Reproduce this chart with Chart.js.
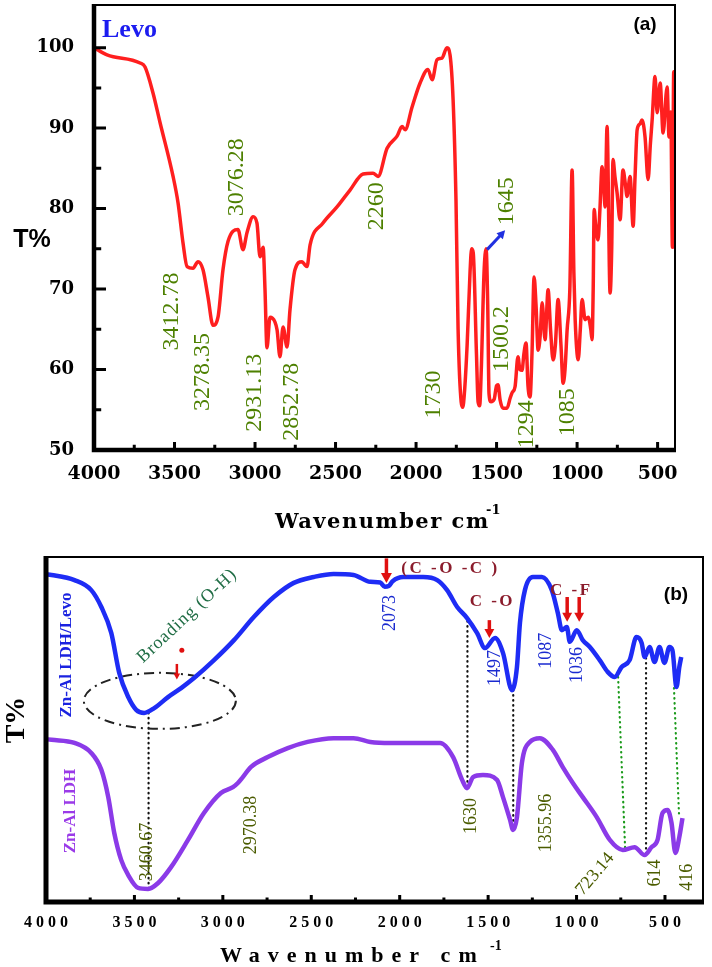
<!DOCTYPE html>
<html lang="en">
<head>
<meta charset="UTF-8">
<title>FTIR spectra: Levo, Zn-Al LDH/Levo, Zn-Al LDH</title>
<script src="https://cdn.jsdelivr.net/npm/chart.js"></script>
<style>
    body { margin: 0; background: #fff; }
    .wrap { position: relative; width: 712px; height: 967px; }
    #topChart { position: absolute; left: 0; top: 0; }
    #bottomChart { position: absolute; left: 0; top: 540px; }
</style>
</head>
<body>
<div class="wrap">
    <canvas id="topChart" width="712" height="540"></canvas>
    <canvas id="bottomChart" width="712" height="427"></canvas>
</div>
<script>
// ---- (a) Levo spectrum ----
const levoWn = [4000, 3919, 3714, 3683, 3634, 3590, 3509, 3478, 3447, 3422, 3385, 3354, 3323, 3292, 3261, 3230, 3199, 3168, 3106, 3075, 3050, 3012, 2988, 2969, 2950, 2938, 2926, 2907, 2876, 2863, 2845, 2826, 2801, 2783, 2752, 2708, 2690, 2677, 2658, 2578, 2491, 2410, 2329, 2267, 2236, 2180, 2118, 2087, 2068, 2025, 1975, 1926, 1900, 1870, 1839, 1808, 1789, 1770, 1752, 1739, 1720, 1710, 1700, 1683, 1665, 1655, 1645, 1625, 1615, 1605, 1595, 1578, 1565, 1555, 1547, 1535, 1515, 1500, 1491, 1478, 1460, 1435, 1415, 1404, 1385, 1367, 1355, 1342, 1330, 1317, 1305, 1292, 1280, 1267, 1255, 1242, 1230, 1217, 1199, 1180, 1165, 1149, 1135, 1118, 1100, 1087, 1075, 1062, 1045, 1031, 1020, 1012, 993, 980, 969, 950, 931, 915, 907, 900, 894, 885, 870, 858, 845, 835, 826, 814, 795, 785, 777, 765, 752, 733, 715, 700, 690, 671, 652, 640, 627, 610, 597, 578, 559, 545, 534, 516, 503, 484, 466, 441, 429, 418, 408, 400, 393];
const levoT = [100, 99.1, 98.1, 97.6, 94.4, 90.7, 84.0, 80.7, 75.7, 72.8, 72.6, 73.4, 72.4, 69.0, 65.5, 66.5, 72.4, 75.9, 77.4, 74.9, 77.0, 79.0, 78.2, 74.0, 75.2, 69.9, 62.7, 66.5, 65.9, 64.9, 61.6, 65.3, 62.8, 67.4, 72.4, 73.4, 73.0, 72.8, 75.5, 78.2, 80.2, 82.3, 84.3, 84.4, 84.0, 87.5, 89.0, 90.2, 89.8, 92.6, 95.6, 97.3, 96.0, 98.5, 98.7, 100, 99.1, 93.5, 81.0, 65.0, 56.0, 55.3, 57.0, 63.0, 72.0, 75.0, 74.5, 62.0, 56.0, 55.5, 60.0, 72.0, 75.0, 68.0, 57.0, 56.0, 56.3, 58.0, 58.1, 56.2, 55.2, 55.2, 56.5, 57.1, 57.9, 61.6, 60.0, 59.9, 62.0, 63.3, 58.0, 56.6, 62.0, 71.5, 68.0, 62.4, 64.0, 68.3, 63.7, 69.9, 65.0, 61.2, 63.0, 68.7, 63.0, 58.3, 60.0, 64.9, 70.0, 84.8, 72.0, 66.2, 61.2, 65.0, 68.7, 66.2, 66.5, 65.0, 63.7, 70.0, 79.9, 78.0, 76.1, 80.0, 85.2, 83.0, 80.2, 90.2, 69.5, 75.0, 86.1, 84.0, 82.0, 78.6, 84.8, 83.0, 81.5, 84.0, 77.8, 84.0, 89.8, 90.5, 91.0, 88.9, 83.6, 88.0, 91.0, 96.4, 91.9, 95.6, 89.4, 95.1, 88.9, 92.0, 75.2, 97.0, 75.0];

// ---- (b) Zn-Al LDH/Levo (upper trace), arbitrary offset units ----
const ldhLevoWn = [4000, 3969, 3839, 3744, 3687, 3631, 3586, 3535, 3490, 3445, 3388, 3310, 3236, 3163, 3050, 2937, 2825, 2712, 2599, 2486, 2374, 2261, 2166, 2110, 2085, 2062, 2040, 1980, 1867, 1788, 1732, 1675, 1619, 1563, 1517, 1461, 1416, 1365, 1337, 1320, 1292, 1247, 1196, 1140, 1106, 1083, 1055, 1038, 999, 965, 925, 869, 824, 784, 745, 700, 661, 632, 615, 587, 559, 531, 503, 475, 458, 435, 419, 408];
const ldhLevoT = [95.0, 94.8, 93.3, 90.4, 85.5, 78.0, 66.4, 59.4, 55.7, 54.8, 56.2, 59.4, 62.0, 64.9, 70.1, 75.9, 82.6, 88.4, 92.5, 94.2, 95.1, 94.8, 92.8, 92.6, 91.4, 91.6, 93.0, 94.2, 94.2, 93.3, 90.4, 85.5, 82.3, 78.0, 73.6, 76.5, 72.2, 61.4, 68.1, 80.9, 90.4, 94.2, 94.2, 90.4, 83.8, 78.8, 79.7, 75.4, 78.8, 75.9, 73.9, 70.1, 66.7, 65.2, 68.1, 70.1, 76.8, 75.1, 71.0, 73.9, 69.6, 73.9, 69.3, 73.9, 73.0, 62.3, 68.1, 71.0];

// ---- (b) Zn-Al LDH (lower trace) ----
const ldhWn = [4000, 3969, 3839, 3744, 3687, 3648, 3614, 3575, 3535, 3479, 3423, 3366, 3293, 3197, 3107, 3011, 2943, 2915, 2887, 2842, 2746, 2633, 2521, 2374, 2261, 2166, 2053, 1924, 1771, 1698, 1647, 1619, 1585, 1529, 1450, 1416, 1376, 1359, 1337, 1309, 1264, 1208, 1134, 1078, 1021, 965, 886, 812, 739, 672, 615, 576, 542, 514, 486, 463, 441, 419, 401];
const ldhT = [47.2, 47.0, 46.1, 43.2, 38.3, 30.4, 20.0, 12.2, 7.8, 4.1, 3.8, 5.5, 10.1, 18.0, 25.8, 31.6, 33.3, 34.5, 36.2, 39.1, 42.0, 44.6, 46.4, 47.5, 47.5, 46.4, 46.1, 46.1, 46.1, 42.0, 35.4, 33.0, 36.2, 36.8, 35.4, 30.4, 23.8, 20.9, 24.6, 40.3, 46.4, 47.5, 44.1, 39.1, 34.5, 30.4, 24.6, 18.0, 15.1, 15.9, 13.6, 15.9, 18.0, 25.8, 26.7, 22.9, 14.2, 18.8, 24.3];

const topXTicks = [4000, 3500, 3000, 2500, 2000, 1500, 1000, 500];
const topYTicks = [50, 60, 70, 80, 90, 100];
const bottomXTicks = [4000, 3500, 3000, 2500, 2000, 1500, 1000, 500];

// peak labels: [text, wavenumber, T]
const levoPeakLabels = [
    ['3412.78', 3516, 67.2], ['3278.35', 3323, 59.7], ['3076.28', 3112, 83.9],
    ['2931.13', 3000, 57.1], ['2852.78', 2770, 56.0], ['2260', 2242, 80.3],
    ['1645', 1435, 80.9], ['1500.2', 1466, 63.8], ['1730', 1888, 56.9],
    ['1294', 1311, 53.2], ['1085', 1056, 54.7]
];
const ldhPeakLabels = [
    ['3460.67', 3430, 14.5, -90], ['2970.38', 2842, 22.3, -90], ['1630', 1595, 24.9, -90],
    ['1355.96', 1171, 22.9, -90], ['723.14', 895, 8.1, -50], ['614', 556, 8.4, -90], ['416', 375, 7.2, -90]
];
const ldhLevoPeakLabels = [['2073', 2052, 83.8], ['1497', 1459, 67.8], ['1087', 1171, 72.8], ['1036', 996, 68.7]];
// dotted guide lines: [wn upper, v upper, wn lower, v lower, colour]
const guides = [
    [3420, 54.8, 3420, 3.5, '#111'], [1617, 81.4, 1617, 33.3, '#111'], [1358, 61.4, 1358, 20.9, '#111'],
    [765, 65.2, 725, 15.1, '#1a9a1a'], [607, 70.7, 607, 13.6, '#111'], [449, 62.0, 420, 24.6, '#1a9a1a']
];

const pairs = (xs, ys) => xs.map((x, i) => ({ x: x, y: ys[i] }));

function label(ctx, s, x, y, font, color, angle, spacing) {
    ctx.save();
    ctx.font = font;
    ctx.fillStyle = color;
    if (spacing && 'letterSpacing' in ctx) ctx.letterSpacing = spacing + 'px';
    ctx.translate(x, y);
    ctx.rotate((angle || 0) * Math.PI / 180);
    ctx.textAlign = 'center';
    ctx.textBaseline = 'middle';
    ctx.fillText(s, 0, 0);
    ctx.restore();
}

function arrow(ctx, x1, y1, x2, y2, color, w, head) {
    const ang = Math.atan2(y2 - y1, x2 - x1);
    const c = Math.cos(ang), s = Math.sin(ang);
    ctx.save();
    ctx.setLineDash([]);
    ctx.strokeStyle = color;
    ctx.fillStyle = color;
    ctx.lineWidth = w;
    ctx.beginPath();
    ctx.moveTo(x1, y1);
    ctx.lineTo(x2 - c * head * 0.8, y2 - s * head * 0.8);
    ctx.stroke();
    ctx.beginPath();
    ctx.moveTo(x2, y2);
    ctx.lineTo(x2 - head * c + head * 0.55 * s, y2 - head * s - head * 0.55 * c);
    ctx.lineTo(x2 - head * c - head * 0.55 * s, y2 - head * s + head * 0.55 * c);
    ctx.closePath();
    ctx.fill();
    ctx.restore();
}

function drawTicks(ctx, chart, xTicks, yTicks, xLen, yLen) {
    const a = chart.chartArea, x = chart.scales.x, y = chart.scales.y;
    ctx.save();
    ctx.strokeStyle = '#000';
    ctx.lineWidth = 3;
    ctx.beginPath();
    xTicks.forEach((v, i) => {
        const px = x.getPixelForValue(v);
        ctx.moveTo(px, a.bottom); ctx.lineTo(px, a.bottom - xLen);
        if (i < xTicks.length - 1) {
            const m = x.getPixelForValue((v + xTicks[i + 1]) / 2);
            ctx.moveTo(m, a.bottom); ctx.lineTo(m, a.bottom - xLen * 0.65);
        }
    });
    if (yTicks) {
        yTicks.forEach((v, i) => {
            const py = y.getPixelForValue(v);
            ctx.moveTo(a.left, py); ctx.lineTo(a.left + yLen, py);
            if (i < yTicks.length - 1) {
                const m = y.getPixelForValue((v + yTicks[i + 1]) / 2);
                ctx.moveTo(a.left, m); ctx.lineTo(a.left + yLen * 0.6, m);
            }
        });
    }
    ctx.stroke();
    ctx.restore();
}

function drawFrame(ctx, a, thick) {
    ctx.save();
    ctx.strokeStyle = '#000';
    ctx.lineWidth = 2;
    ctx.strokeRect(a.left, a.top, a.right - a.left, a.bottom - a.top);
    ctx.lineWidth = thick;
    ctx.beginPath();
    ctx.moveTo(a.left, a.top - 1);
    ctx.lineTo(a.left, a.bottom);
    ctx.lineTo(a.right + 1, a.bottom);
    ctx.stroke();
    ctx.restore();
}

// stop Chart.js from reserving room for half of the end tick labels
const noEdgePadding = s => { s.paddingTop = 0; s.paddingBottom = 0; };

const topDecor = {
    id: 'topDecor',
    afterDraw(chart) {
        const { ctx, chartArea: a, scales: { x, y } } = chart;
        drawFrame(ctx, a, 4.5);
        drawTicks(ctx, chart, topXTicks, topYTicks, 8, 12);
        levoPeakLabels.forEach(p => {
            label(ctx, p[0], x.getPixelForValue(p[1]), y.getPixelForValue(p[2]), '24px "Liberation Serif"', '#4d8000', -90);
        });
        arrow(ctx, x.getPixelForValue(1559), y.getPixelForValue(74.9), x.getPixelForValue(1447), y.getPixelForValue(77.3), '#2030e0', 3, 8);
        ctx.save();
        ctx.font = 'bold 26px "Liberation Serif"';
        ctx.fillStyle = '#1c1cf0';
        ctx.fillText('Levo', 102, 37);
        ctx.restore();
        label(ctx, '(a)', 645, 25, 'bold 19px "Liberation Sans"', '#000');
        label(ctx, 'T%', 32, 240, 'bold 25px "Liberation Sans"', '#000');
        ctx.save();
        ctx.fillStyle = '#000';
        ctx.font = 'bold 21px "DejaVu Serif"';
        if ('letterSpacing' in ctx) ctx.letterSpacing = '1.5px';
        ctx.fillText('Wavenumber cm', 275, 528);
        ctx.font = 'bold 13px "DejaVu Serif"';
        if ('letterSpacing' in ctx) ctx.letterSpacing = '0px';
        ctx.fillText('-1', 486, 514);
        ctx.restore();
    }
};

const bottomDecor = {
    id: 'bottomDecor',
    beforeDatasetsDraw(chart) {
        const { ctx, scales: { x, y } } = chart;
        ctx.save();
        ctx.lineWidth = 2.2;
        ctx.lineCap = 'round';
        ctx.setLineDash([0.5, 4.5]);
        guides.forEach(g => {
            ctx.strokeStyle = g[4];
            ctx.beginPath();
            ctx.moveTo(x.getPixelForValue(g[0]), y.getPixelForValue(g[1]));
            ctx.lineTo(x.getPixelForValue(g[2]), y.getPixelForValue(g[3]));
            ctx.stroke();
        });
        ctx.lineCap = 'butt';
        ctx.lineWidth = 2;
        ctx.strokeStyle = '#222';
        ctx.setLineDash([10, 5, 2, 5]);
        ctx.beginPath();
        ctx.ellipse(x.getPixelForValue(3356), y.getPixelForValue(58.3), 76, 28, 0, 0, Math.PI * 2);
        ctx.stroke();
        ctx.restore();
    },
    afterDraw(chart) {
        const { ctx, chartArea: a, scales: { x, y } } = chart;
        drawFrame(ctx, a, 5);
        drawTicks(ctx, chart, bottomXTicks, null, 7, 0);
        ldhPeakLabels.forEach(p => {
            label(ctx, p[0], x.getPixelForValue(p[1]), y.getPixelForValue(p[2]), '18px "Liberation Serif"', '#4b5c00', p[3]);
        });
        ldhLevoPeakLabels.forEach(p => {
            label(ctx, p[0], x.getPixelForValue(p[1]), y.getPixelForValue(p[2]), '18px "Liberation Serif"', '#1a2ad0', -90);
        });
        const red = '#e01010', dark = '#8b1c2c';
        arrow(ctx, x.getPixelForValue(2075), y.getPixelForValue(99.6), x.getPixelForValue(2075), y.getPixelForValue(92.5), red, 3.5, 10);
        arrow(ctx, x.getPixelForValue(1493), y.getPixelForValue(81.7), x.getPixelForValue(1493), y.getPixelForValue(76.5), red, 3.5, 9);
        arrow(ctx, x.getPixelForValue(1053), y.getPixelForValue(88.4), x.getPixelForValue(1053), y.getPixelForValue(81.2), red, 3.5, 9);
        arrow(ctx, x.getPixelForValue(985), y.getPixelForValue(88.4), x.getPixelForValue(985), y.getPixelForValue(81.2), red, 3.5, 9);
        arrow(ctx, x.getPixelForValue(3260), y.getPixelForValue(69.0), x.getPixelForValue(3260), y.getPixelForValue(64.5), red, 2.5, 6);
        ctx.save();
        ctx.fillStyle = red;
        ctx.beginPath();
        ctx.arc(x.getPixelForValue(3232), y.getPixelForValue(73), 2.5, 0, Math.PI * 2);
        ctx.fill();
        ctx.restore();
        label(ctx, '(C -O -C )', x.getPixelForValue(1713), y.getPixelForValue(96.5), 'bold 17px "Liberation Serif"', dark, 0, 2.5);
        label(ctx, 'C -O', x.getPixelForValue(1476), y.getPixelForValue(87), 'bold 17px "Liberation Serif"', dark, 0, 2.5);
        label(ctx, 'C -F', x.getPixelForValue(1030), y.getPixelForValue(90.4), 'bold 17px "Liberation Serif"', dark, 0, 2.5);
        label(ctx, 'Broading (O-H)', 187, 76, '18px "Liberation Serif"', '#206d45', -43, 1);
        label(ctx, 'Zn-Al LDH/Levo', 67, 115, 'bold 17px "Liberation Serif"', '#1a22e0', -90);
        label(ctx, 'Zn-Al LDH', 71, 271, 'bold 17px "Liberation Serif"', '#9a3ae8', -90);
        label(ctx, '(b)', 676, 55, 'bold 19px "Liberation Sans"', '#000');
        label(ctx, 'T%', 17, 180, 'bold 28px "Liberation Serif"', '#000', -90);
        ctx.save();
        ctx.fillStyle = '#000';
        ctx.font = 'bold 22px "Liberation Serif"';
        if ('letterSpacing' in ctx) ctx.letterSpacing = '8px';
        ctx.fillText('Wavenumber cm', 220, 422);
        ctx.font = 'bold 14px "Liberation Serif"';
        if ('letterSpacing' in ctx) ctx.letterSpacing = '0px';
        ctx.fillText('-1', 490, 410);
        ctx.restore();
    }
};

const topChart = new Chart(document.getElementById('topChart'), {
    type: 'line',
    data: {
        datasets: [{
            data: pairs(levoWn, levoT),
            borderColor: '#ff1f1f',
            borderWidth: 3.5,
            pointRadius: 0,
            cubicInterpolationMode: 'monotone'
        }]
    },
    options: {
        responsive: false,
        animation: false,
        layout: { padding: { left: 0, right: 37, top: 5, bottom: 0 } },
        plugins: { legend: { display: false }, tooltip: { enabled: false } },
        scales: {
            x: {
                type: 'linear', reverse: true, min: 392, max: 4000,
                afterBuildTicks: s => { s.ticks = topXTicks.map(v => ({ value: v })); },
                afterFit: s => { s.height = 90; },
                grid: { display: false }, border: { display: false },
                ticks: { padding: 5, color: '#000', maxRotation: 0, autoSkip: false,
                    callback: v => String(v),
                    font: { family: 'DejaVu Serif', size: 19, weight: 'bold' } }
            },
            y: {
                min: 50, max: 105.3,
                afterBuildTicks: s => { s.ticks = topYTicks.map(v => ({ value: v })); },
                afterFit: s => { s.width = 94; noEdgePadding(s); },
                grid: { display: false }, border: { display: false },
                ticks: { padding: 12, color: '#000',
                    callback: v => String(v),
                    font: { family: 'DejaVu Serif', size: 18, weight: 'bold' } }
            }
        }
    },
    plugins: [topDecor]
});

const bottomChart = new Chart(document.getElementById('bottomChart'), {
    type: 'line',
    data: {
        datasets: [{
            data: pairs(ldhLevoWn, ldhLevoT),
            borderColor: '#1e2cf5',
            borderWidth: 4.5,
            pointRadius: 0,
            cubicInterpolationMode: 'monotone'
        }, {
            data: pairs(ldhWn, ldhT),
            borderColor: '#8b3ae8',
            borderWidth: 4.5,
            pointRadius: 0,
            cubicInterpolationMode: 'monotone'
        }]
    },
    options: {
        responsive: false,
        animation: false,
        layout: { padding: { left: 46, right: 9, top: 17, bottom: 0 } },
        plugins: { legend: { display: false }, tooltip: { enabled: false } },
        scales: {
            x: {
                type: 'linear', reverse: true, min: 285, max: 4000,
                afterBuildTicks: s => { s.ticks = bottomXTicks.map(v => ({ value: v })); },
                afterFit: s => { s.height = 65; },
                grid: { display: false }, border: { display: false },
                ticks: { padding: 3, color: '#000', maxRotation: 0, autoSkip: false,
                    callback: v => String(v).split('').join(' '),
                    font: { family: 'Liberation Serif', size: 16, weight: 'bold' } }
            },
            y: { display: false, min: 0, max: 100 }
        }
    },
    plugins: [bottomDecor]
});
</script>
</body>
</html>
